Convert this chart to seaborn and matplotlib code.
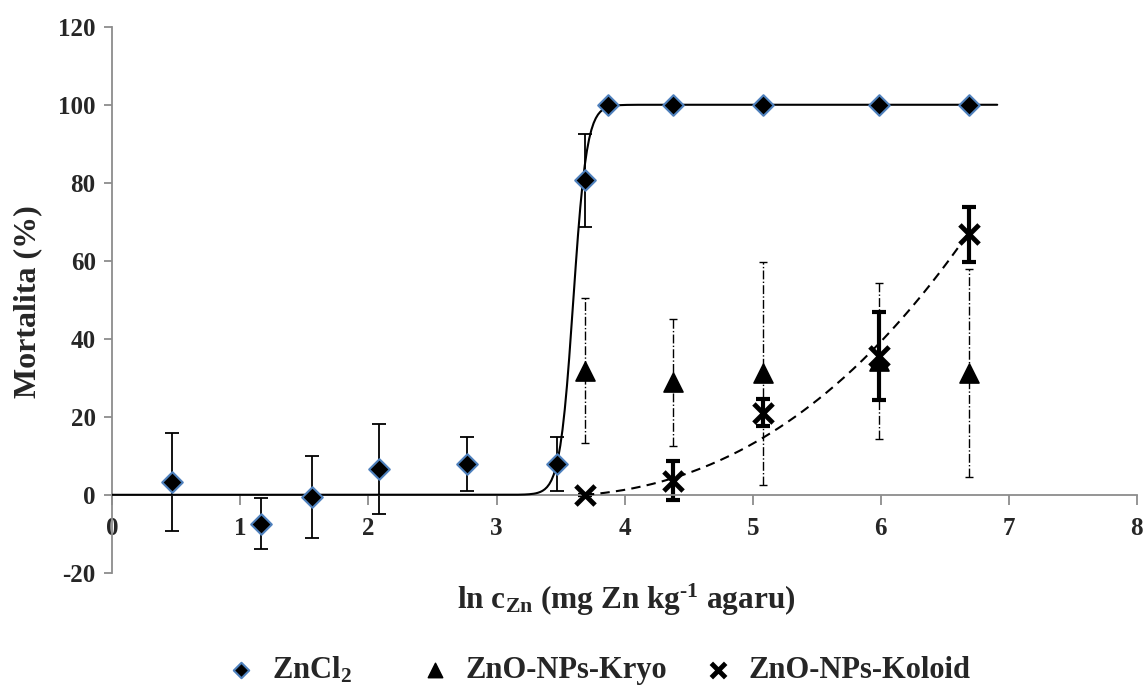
import numpy as np
import pandas as pd
import matplotlib
matplotlib.use("Agg")
import matplotlib.pyplot as plt
import seaborn as sns

# ln koncentrace Zn (mg Zn / kg agaru)
x_zncl2 = [0.47, 1.16, 1.56, 2.08, 2.77, 3.47, 3.69, 3.87, 4.38, 5.08, 5.99, 6.69]
y_zncl2 = [3.2, -7.4, -0.6, 6.6, 7.8, 7.8, 80.6, 100, 100, 100, 100, 100]
err_zncl2 = [12.6, 6.5, 10.6, 11.6, 6.9, 6.9, 12.0, 0, 0, 0, 0, 0]

x_np = [3.69, 4.38, 5.08, 5.99, 6.69]
y_kryo = [31.8, 28.8, 31.2, 34.3, 31.2]
err_kryo = [18.6, 16.3, 28.6, 20.1, 26.7]
y_koloid = [0.0, 3.6, 21.1, 35.6, 66.8]
err_koloid = [0.0, 5.0, 3.5, 11.3, 7.1]

labels = ["ZnCl$_2$", "ZnO-NPs-Kryo", "ZnO-NPs-Koloid"]

# parametry prolozenych krivek
sig_x50, sig_k, sig_xmax = 3.60, 19.0, 6.91
kol_coef = [0.55, 5.0, 2.5, 0.0]  # kubicky trend v (x - 3.69)

sns.set_theme(style="white")
plt.rcParams["font.family"] = ["Liberation Serif", "DejaVu Serif"]
plt.rcParams["font.weight"] = "bold"
plt.rcParams["axes.unicode_minus"] = False
plt.rcParams["mathtext.fontset"] = "custom"
plt.rcParams["mathtext.rm"] = "Liberation Serif:bold"
plt.rcParams["mathtext.bf"] = "Liberation Serif:bold"
plt.rcParams["mathtext.default"] = "bf"

fig = plt.figure(figsize=(11.46, 6.86), dpi=100)
ax = fig.add_axes([0.098, 0.165, 0.894, 0.796])

# krivky
xs = np.linspace(0, sig_xmax, 400)
sig = pd.DataFrame({"x": xs, "y": 100 / (1 + np.exp(-sig_k * (xs - sig_x50)))})
sns.lineplot(data=sig, x="x", y="y", color="black", lw=1.5, ax=ax, zorder=3)

xk = np.linspace(x_np[0], x_np[-1], 200)
kol = pd.DataFrame({"x": xk, "y": np.polyval(kol_coef, xk - x_np[0])})
sns.lineplot(data=kol, x="x", y="y", color="black", lw=1.5, ax=ax, zorder=3)
ax.lines[-1].set_dashes([4.5, 3])

# chybove usecky
ax.errorbar(x_zncl2, y_zncl2, yerr=err_zncl2, fmt="none", ecolor="black",
            elinewidth=1.3, capsize=5, capthick=1.3, zorder=2)
eb = ax.errorbar(x_np, y_kryo, yerr=err_kryo, fmt="none", ecolor="black",
                 elinewidth=1.0, capsize=3, capthick=1.0, zorder=2)
eb[2][0].set_linestyle("-.")
ax.errorbar(x_np, y_koloid, yerr=err_koloid, fmt="none", ecolor="black",
            elinewidth=3, capsize=5, capthick=3, zorder=2)

# body
sns.scatterplot(x=x_zncl2, y=y_zncl2, marker="D", s=110, color="black",
                edgecolor="#4F81BD", linewidth=1.5, ax=ax, zorder=5,
                label=labels[0])
sns.scatterplot(x=x_np, y=y_kryo, marker="^", s=190, color="black",
                edgecolor="black", ax=ax, zorder=4, label=labels[1])
sns.scatterplot(x=x_np, y=y_koloid, marker="x", s=190, color="black",
                linewidth=3.5, ax=ax, zorder=4, label=labels[2])

ax.set_xlim(0, 8)
ax.set_ylim(-20, 120)
ax.set_xticks(range(0, 9))
ax.set_yticks(range(-20, 121, 20))
ax.set_xlabel("")
ax.set_ylabel("")

for s in ["top", "right"]:
    ax.spines[s].set_visible(False)
ax.spines["bottom"].set_position(("data", 0))
for s in ["left", "bottom"]:
    ax.spines[s].set_color("#8c8c8c")
    ax.spines[s].set_linewidth(1.3)
ax.tick_params(axis="y", direction="out", length=6, width=1.3, color="#8c8c8c",
               labelsize=18, pad=6, left=True)
ax.tick_params(axis="x", direction="out", length=7, width=1.3, color="#8c8c8c",
               labelsize=18, pad=9, bottom=True)
for t in ax.get_xticklabels() + ax.get_yticklabels():
    t.set_fontweight("bold")

fig.text(0.546, 0.125, r"ln c$_{Zn}$ (mg Zn kg$^{\text{-1}}$ agaru)", ha="center",
         va="center", fontsize=22.5, fontweight="bold")
fig.text(0.024, 0.561, "Mortalita (%)", ha="center", va="center",
         rotation=90, fontsize=23, fontweight="bold")

# legenda: tri samostatne polozky jako v Excelu
ax.legend_.remove()
handles, _ = ax.get_legend_handles_labels()
leg_x = [0.197, 0.366, 0.613]
for h, lab, lx in zip(handles, labels, leg_x):
    fig.legend([h], [lab], loc="center left", bbox_to_anchor=(lx, 0.023),
               frameon=False, markerscale=0.75, handlelength=1.0,
               handletextpad=0.5, borderpad=0, borderaxespad=0,
               prop={"weight": "bold", "size": 22})

fig.savefig("out.png", dpi=100)
